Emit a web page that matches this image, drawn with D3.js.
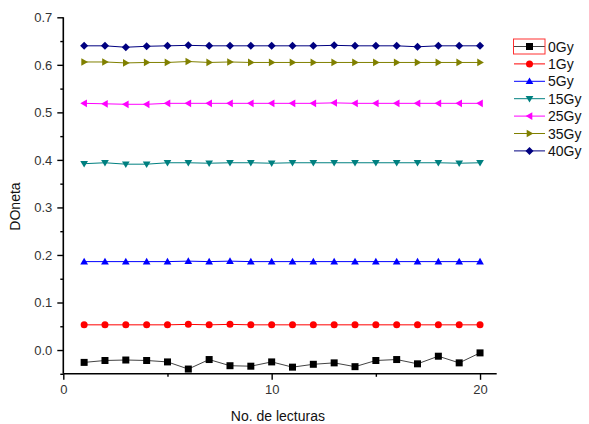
<!DOCTYPE html>
<html><head><meta charset="utf-8">
<script src="https://cdn.jsdelivr.net/npm/d3@7"></script>
<style>body{margin:0;background:#fff}svg{display:block}text{font-family:"Liberation Sans",Arial,sans-serif}</style>
</head><body><svg id="c" width="589" height="424"></svg>
<script>
const lecturas = d3.range(1, 21);
const seriesNames = ["0Gy","1Gy","5Gy","15Gy","25Gy","35Gy","40Gy"];
const s0Gy  = [-0.026,-0.022,-0.021,-0.022,-0.025,-0.040,-0.020,-0.033,-0.034,-0.025,-0.036,-0.030,-0.027,-0.035,-0.022,-0.020,-0.029,-0.013,-0.027,-0.006];
const s1Gy  = [0.053,0.053,0.053,0.053,0.053,0.054,0.053,0.054,0.053,0.053,0.053,0.053,0.053,0.053,0.053,0.053,0.053,0.053,0.053,0.053];
const s5Gy  = [0.186,0.186,0.186,0.186,0.186,0.187,0.186,0.187,0.186,0.186,0.186,0.186,0.186,0.186,0.186,0.186,0.186,0.186,0.186,0.186];
const s15Gy = [0.392,0.394,0.391,0.391,0.394,0.394,0.393,0.394,0.394,0.393,0.394,0.394,0.394,0.394,0.394,0.394,0.394,0.394,0.393,0.394];
const s25Gy = [0.519,0.518,0.517,0.517,0.519,0.519,0.519,0.519,0.519,0.519,0.519,0.519,0.520,0.519,0.519,0.519,0.519,0.519,0.519,0.519];
const s35Gy = [0.606,0.606,0.604,0.605,0.605,0.607,0.605,0.606,0.605,0.605,0.605,0.605,0.605,0.605,0.605,0.605,0.605,0.605,0.605,0.605];
const s40Gy = [0.640,0.640,0.637,0.639,0.640,0.641,0.640,0.640,0.640,0.640,0.640,0.640,0.641,0.640,0.640,0.640,0.638,0.640,0.640,0.640];
const seriesValues = [s0Gy,s1Gy,s5Gy,s15Gy,s25Gy,s35Gy,s40Gy];
const colors = ["#000000","#ff0000","#0000ff","#008080","#ff00ff","#808000","#000080"];
const lineColors = ["#444444","#ff0000","#0000ff","#008080","#ff00ff","#808000","#000080"];
const markers = ["square","circle","up","down","left","right","diamond"];
const yTicks = [0.0,0.1,0.2,0.3,0.4,0.5,0.6,0.7];
const yMinor = [-0.05,0.05,0.15,0.25,0.35,0.45,0.55,0.65];
const xTicks = [0,10,20];
const xMinor = [5,15];

const svg = d3.select("#c");
const x = d3.scaleLinear().domain([0,20.8]).range([63.3,496.7]);
const y = d3.scaleLinear().domain([-0.05,0.7]).range([373.8,17.3]);

function markerPath(type, r){
  switch(type){
    case "square": return `M${-r},${-r}h${2*r}v${2*r}h${-2*r}Z`;
    case "circle": return d3.symbol(d3.symbolCircle, Math.PI*r*r)();
    case "up": return `M0,${-r*1.1}L${r*1.1},${r*0.8}L${-r*1.1},${r*0.8}Z`;
    case "down": return `M0,${r*1.1}L${r*1.1},${-r*0.8}L${-r*1.1},${-r*0.8}Z`;
    case "left": return `M${-r*1.1},0L${r*0.8},${-r*1.1}L${r*0.8},${r*1.1}Z`;
    case "right": return `M${r*1.1},0L${-r*0.8},${-r*1.1}L${-r*0.8},${r*1.1}Z`;
    case "diamond": return `M0,${-r*1.15}L${r*1.15},0L0,${r*1.15}L${-r*1.15},0Z`;
  }
}
const mr = 3.5;

// axes
const yAxis = d3.axisLeft(y).tickValues(yTicks).tickFormat(d3.format(".1f")).tickSize(6).tickPadding(5);
const gy = svg.append("g").attr("transform","translate(63.3,0)").call(yAxis);
const yAxisMinor = d3.axisLeft(y).tickValues(yMinor).tickFormat("").tickSize(3);
svg.append("g").attr("transform","translate(63.3,0)").call(yAxisMinor);
const xAxis = d3.axisBottom(x).tickValues(xTicks).tickFormat(d3.format("d")).tickSize(6).tickPadding(5);
const gx = svg.append("g").attr("transform","translate(0,373.8)").call(xAxis);
const xAxisMinor = d3.axisBottom(x).tickValues(xMinor).tickFormat("").tickSize(3);
svg.append("g").attr("transform","translate(0,373.8)").call(xAxisMinor);
svg.selectAll(".domain").attr("stroke","#000").attr("stroke-width",1.6);
svg.selectAll(".tick line").attr("stroke","#000").attr("stroke-width",1.4);
svg.selectAll(".tick text").attr("fill","#333").style("font-size","13px").style("font-family","'Liberation Sans',Arial,sans-serif");
svg.selectAll(".domain").each(function(){ d3.select(this).attr("d", d3.select(this).attr("d").replace(/^M-?[\d.]+,([\d.]+)H/, "M0,$1H")); });
// remove outer ticks on domain by redrawing straight lines
svg.selectAll(".domain").remove();
svg.append("line").attr("x1",63.3).attr("x2",63.3).attr("y1",y(0.7)).attr("y2",y(-0.05)).attr("stroke","#000").attr("stroke-width",1.6);
svg.append("line").attr("x1",x(0)).attr("x2",x(20.8)).attr("y1",373.8).attr("y2",373.8).attr("stroke","#000").attr("stroke-width",1.6);

// axis titles
svg.append("text").attr("x",x(10.3)).attr("y",421).attr("text-anchor","middle").style("font-size","14px").attr("fill","#111").text("No. de lecturas");
svg.append("text").attr("transform","translate(20,206.5) rotate(-90)").attr("text-anchor","middle").style("font-size","14px").attr("fill","#111").text("DOneta");

// series
const line = d3.line().x((d,i)=>x(lecturas[i])).y(d=>y(d));
seriesValues.forEach((vals,k)=>{
  svg.append("path").datum(vals).attr("d",line).attr("fill","none").attr("stroke",lineColors[k]).attr("stroke-width",1);
  svg.append("g").selectAll("path").data(vals).join("path")
    .attr("transform",(d,i)=>`translate(${x(lecturas[i])},${y(d)})`)
    .attr("d",markerPath(markers[k],mr)).attr("fill",colors[k]);
});

// legend
const lg = svg.append("g");
const lx0 = 514, lx1 = 545, ly0 = 46.5, lstep = 17.4;
seriesNames.forEach((name,k)=>{
  const yy = ly0 + k*lstep;
  lg.append("line").attr("x1",lx0).attr("x2",lx1).attr("y1",yy).attr("y2",yy).attr("stroke",lineColors[k]).attr("stroke-width",1);
  lg.append("path").attr("transform",`translate(${(lx0+lx1)/2},${yy})`).attr("d",markerPath(markers[k],mr)).attr("fill",colors[k]);
  lg.append("text").attr("x",548).attr("y",yy+5).style("font-size","14px").attr("fill","#111").text(name);
});
lg.append("rect").attr("x",513.5).attr("y",39).attr("width",31.5).attr("height",15).attr("fill","none").attr("stroke","#ff3030").attr("stroke-width",1);
</script></body></html>
